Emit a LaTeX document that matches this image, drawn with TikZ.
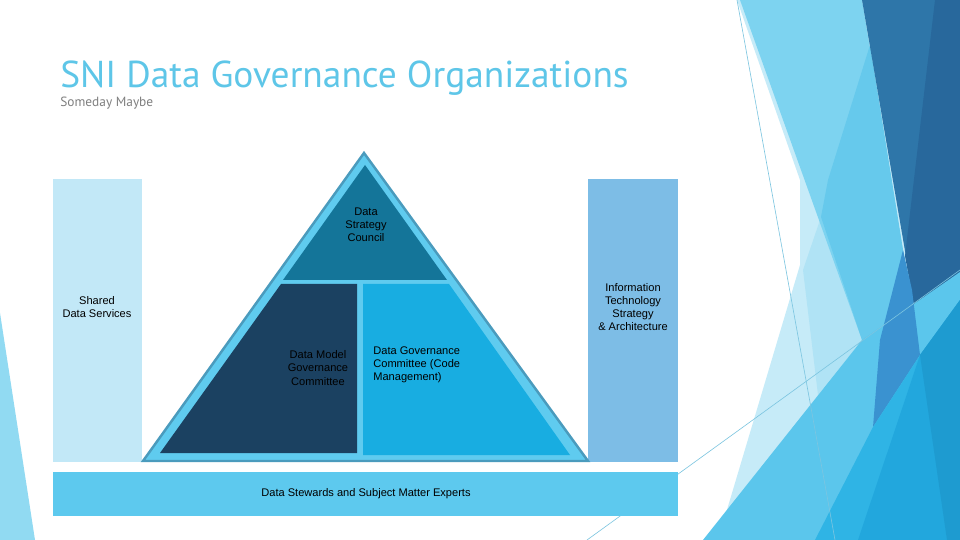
\documentclass[tikz,border=0pt]{standalone}
\usepackage{fontspec}
\setmainfont{Liberation Sans}
\newfontfamily\titlefont{PT Sans}
\definecolor{titleblue}{HTML}{5EC6E8}
\definecolor{subgray}{HTML}{7F7F7F}
\definecolor{sharedbar}{HTML}{C2E8F7}
\definecolor{itbar}{HTML}{7DBDE6}
\definecolor{stewardbar}{HTML}{5DC9EE}
\definecolor{frame}{HTML}{5FCBEF}
\definecolor{frameline}{HTML}{4A9BBD}
\definecolor{council}{HTML}{147599}
\definecolor{model}{HTML}{1B4161}
\definecolor{code}{HTML}{18ADE1}
% facet colours
\definecolor{facetpale}{HTML}{C6EBF8}
\definecolor{facetmist}{HTML}{B0E3F5}
\definecolor{facetlight}{HTML}{7DD3F0}
\definecolor{facetmid}{HTML}{66C9EC}
\definecolor{facetdark}{HTML}{2E76A9}
\definecolor{facetdeep}{HTML}{28689C}
\definecolor{facetsea}{HTML}{5BC6EC}
\definecolor{facetviolet}{HTML}{3A92D0}
\definecolor{facetbright}{HTML}{2FB4E5}
\definecolor{facetocean}{HTML}{22A7DD}
\definecolor{facetnavy}{HTML}{1E9BD0}
\definecolor{facetline}{HTML}{7CC5E0}
\begin{document}
\begin{tikzpicture}[x=0.02cm,y=-0.02cm]
\tikzstyle{every node}=[inner sep=0pt,align=center,text=black,
font=\fontsize{6.3}{7.5}\selectfont]
\tikzstyle{thin}=[draw=facetline,line width=0.35pt]

\useasboundingbox (0,0) rectangle (960,540);
\fill[white] (0,0) rectangle (960,540);

% facet background, right and left
\fill[facetpale] (737,0) -- (960,0) -- (960,540) -- (718,540) -- (800,265) -- (800,180) -- cycle;
\fill[facetmist] (821,217) -- (862,340) -- (818,395) -- (803,270) -- cycle;
\fill[facetlight] (740,0) -- (862,0) -- (918,343) -- (862,340) -- cycle;
\fill[facetmid] (870,45) -- (918,343) -- (862,340) -- (821,217) -- (828,180) -- cycle;
\fill[facetdark] (862,0) -- (960,0) -- (960,272) -- (922,350) -- cycle;
\fill[facetdeep] (935,0) -- (960,0) -- (960,272) -- (922,350) -- (905,256) -- cycle;
\fill[facetsea] (703,540) -- (862,340) -- (960,272) -- (960,540) -- cycle;
\fill[facetviolet] (903,250) -- (912,290) -- (920,355) -- (873,427) -- (880,340) -- cycle;
\fill[facetbright] (815,540) -- (873,427) -- (920,355) -- (960,320) -- (960,540) -- cycle;
\fill[facetocean] (858,540) -- (920,355) -- (960,300) -- (960,540) -- cycle;
\fill[facetnavy] (947,540) -- (920,355) -- (960,300) -- (960,540) -- cycle;
\fill[facetlight!85!white] (0,313) -- (35,540) -- (0,540) -- cycle;
\draw[thin] (737,0) -- (835,540);
\draw[thin] (587,540) -- (960,270);

% title
\draw (60,88) node (title) [anchor=base west,text=titleblue,
font=\titlefont\fontsize{21.3}{25}\selectfont] {SNI Data Governance Organizations};
\draw (60,107) node (subtitle) [anchor=base west,text=subgray,
font=\titlefont\fontsize{7.6}{8}\selectfont] {Someday Maybe};

% side bars and base bar
\fill[sharedbar] (53,179) rectangle (142,462);
\fill[itbar] (588,179) rectangle (678,462);
\fill[stewardbar] (53,472) rectangle (678,516);

% pyramid
\filldraw[fill=frame,draw=frameline,line width=1.4pt] (364,153) -- (588,461) -- (143,461) -- cycle;
\fill[council] (365,165) -- (447,280) -- (283,280) -- cycle;
\fill[model] (281,284) -- (357,284) -- (357,453) -- (160,453) -- cycle;
\fill[code] (363,284) -- (449,284) -- (570,455) -- (363,455) -- cycle;

\draw (366,225) node (council) {Data\\Strategy\\Council};
\draw (318,368) node (model) {Data Model\\Governance\\Committee};
\draw (373,365) node (code) [anchor=west,align=left] {Data Governance\\Committee (Code\\Management)};
\draw (97,307) node (shared) {Shared\\Data Services};
\draw (633,307) node (itsa) {Information\\Technology\\Strategy\\\& Architecture};
\draw (366,494) node (stewards) {Data Stewards and Subject Matter Experts};
\end{tikzpicture}
\end{document}
